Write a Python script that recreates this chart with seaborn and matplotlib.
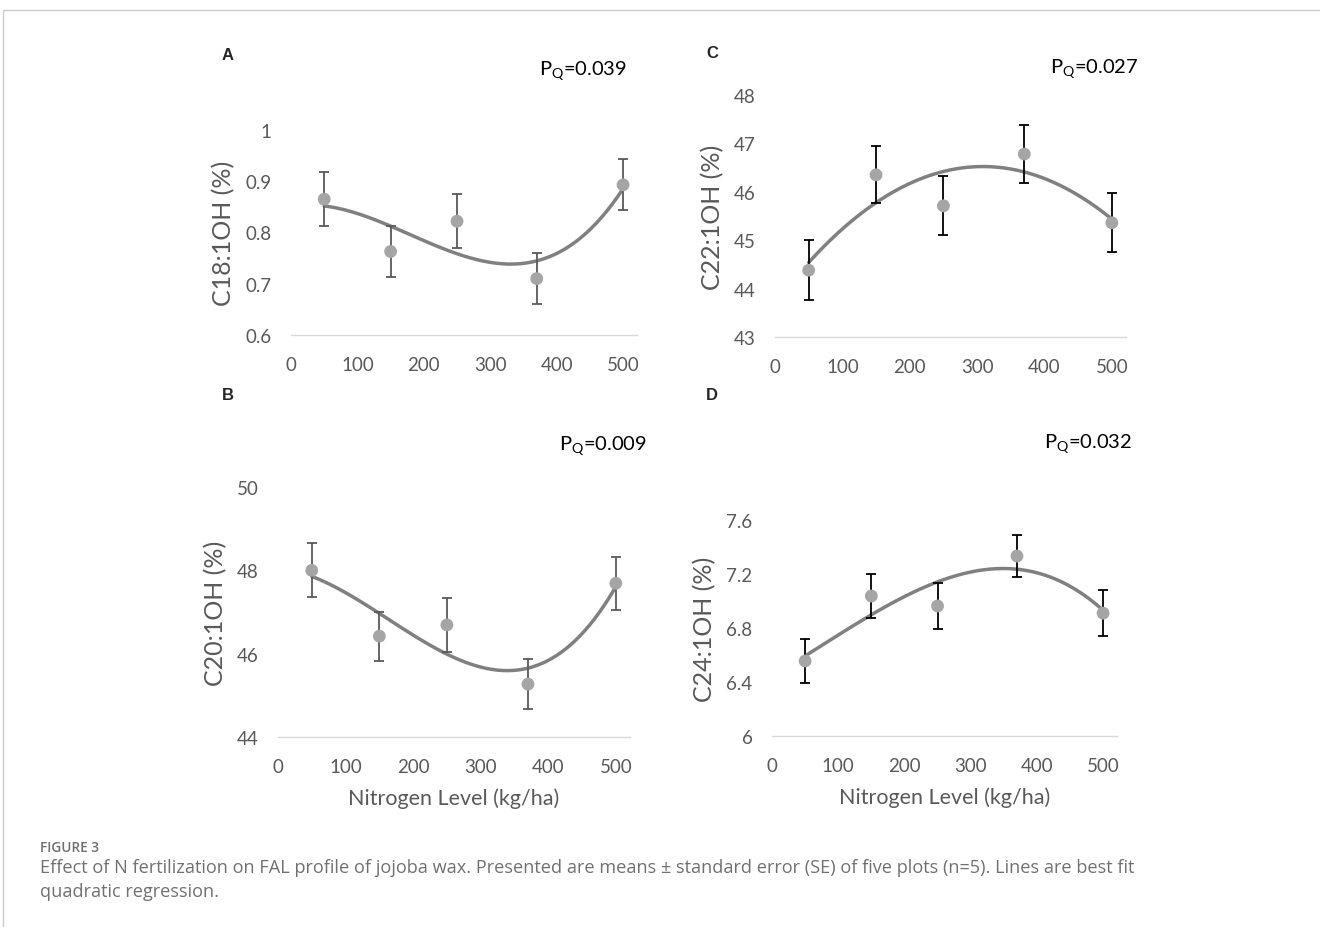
import matplotlib
matplotlib.use("Agg")
import matplotlib.pyplot as plt
from matplotlib.lines import Line2D
import seaborn as sns
import pandas as pd

# nitrogen levels (kg/ha)
n_level = [50, 150, 250, 370, 500]

# panel A: C18:1OH
c18_mean = [0.865, 0.763, 0.822, 0.710, 0.893]
c18_se = [0.053, 0.049, 0.053, 0.050, 0.050]
# panel B: C20:1OH
c20_mean = [48.0, 46.42, 46.69, 45.27, 47.69]
c20_se = [0.65, 0.59, 0.64, 0.61, 0.64]
# panel C: C22:1OH
c22_mean = [44.38, 46.35, 45.71, 46.78, 45.36]
c22_se = [0.62, 0.59, 0.61, 0.60, 0.61]
# panel D: C24:1OH
c24_mean = [6.556, 7.037, 6.963, 7.333, 6.910]
c24_se = [0.160, 0.163, 0.167, 0.156, 0.170]

x_ticks = [0, 100, 200, 300, 400, 500]

sns.set_style("white")
plt.rcParams["font.family"] = ["Lato", "DejaVu Sans"]
plt.rcParams["mathtext.fontset"] = "custom"
plt.rcParams["mathtext.rm"] = "Lato"

TXT = "#595959"
LINE = "#808080"
DOT = "#a5a5a5"


def draw_panel(ax, mean, se, order, ylim, yticks, yticklabels, ylabel, errcolor, xlabel=None):
    df = pd.DataFrame({"N": n_level, "val": mean})
    sns.regplot(data=df, x="N", y="val", order=order, ci=None, scatter=False, truncate=True,
                line_kws={"color": LINE, "lw": 2.5}, ax=ax)
    ax.errorbar(n_level, mean, yerr=se, fmt="none", ecolor=errcolor, elinewidth=1.3,
                capsize=3.6, capthick=1.3, zorder=3)
    sns.scatterplot(data=df, x="N", y="val", color=DOT, s=85, edgecolor="none", zorder=4, ax=ax)
    ax.set_xlim(0, 521)
    ax.set_ylim(*ylim)
    ax.set_xticks(x_ticks)
    ax.set_yticks(yticks)
    ax.set_yticklabels(yticklabels)
    for s in ["top", "right", "left"]:
        ax.spines[s].set_visible(False)
    ax.spines["bottom"].set_color("#d9d9d9")
    ax.spines["bottom"].set_linewidth(1.0)
    ax.tick_params(axis="x", length=0, pad=15, labelsize=13.5, labelcolor=TXT)
    ax.tick_params(axis="y", length=0, pad=14, labelsize=13.5, labelcolor=TXT)
    ax.set_ylabel(ylabel, fontsize=18, color=TXT, labelpad=7)
    if xlabel:
        ax.set_xlabel(xlabel, fontsize=15.5, color=TXT, labelpad=9)
    else:
        ax.set_xlabel("")


fig = plt.figure(figsize=(13.2, 9.28), dpi=100)

axA = fig.add_axes([291 / 1320, 1 - 336 / 928, 346 / 1320, 205 / 928])
axC = fig.add_axes([775 / 1320, 1 - 338 / 928, 351 / 1320, 242 / 928])
axB = fig.add_axes([278 / 1320, 1 - 738 / 928, 352 / 1320, 250 / 928])
axD = fig.add_axes([772 / 1320, 1 - 737 / 928, 345 / 1320, 216 / 928])

draw_panel(axA, c18_mean, c18_se, 3, (0.6, 1.0), [0.6, 0.7, 0.8, 0.9, 1.0],
           ["0.6", "0.7", "0.8", "0.9", "1"], "C18:1OH (%)", "#595959")
draw_panel(axC, c22_mean, c22_se, 2, (43, 48), [43, 44, 45, 46, 47, 48],
           ["43", "44", "45", "46", "47", "48"], "C22:1OH (%)", "black")
draw_panel(axB, c20_mean, c20_se, 3, (44, 50), [44, 46, 48, 50],
           ["44", "46", "48", "50"], "C20:1OH (%)", "#595959",
           xlabel="Nitrogen Level (kg/ha)")
draw_panel(axD, c24_mean, c24_se, 3, (6, 7.6), [6, 6.4, 6.8, 7.2, 7.6],
           ["6", "6.4", "6.8", "7.2", "7.6"], "C24:1OH (%)", "black",
           xlabel="Nitrogen Level (kg/ha)")

# panel letters and P values
for lx, ly, letter in [(228, 55, "A"), (712, 53, "C"), (228, 396, "B"), (712, 396, "D")]:
    fig.text(lx / 1320, 1 - ly / 928, letter, ha="center", va="center", fontsize=12,
             fontweight="bold", family=["Liberation Sans", "DejaVu Sans"])
for px, py, pv in [(627, 71, "0.039"), (1138, 69, "0.027"), (647, 446, "0.009"), (1132, 444, "0.032")]:
    fig.text(px / 1320, 1 - py / 928, r"P$_\mathregular{Q}$=" + pv, ha="right", va="center",
             fontsize=14.5, color="black")

# caption
fig.text(40 / 1320, 1 - 848 / 928, "FIGURE 3", fontsize=9.8, color="#707070", fontweight="semibold",
         family=["Open Sans", "DejaVu Sans"], va="center")
fig.text(40 / 1320, 1 - 859 / 928,
         "Effect of N fertilization on FAL profile of jojoba wax. Presented are means \u00b1 standard error (SE) of five plots (n=5). Lines are best fit\nquadratic regression.",
         fontsize=13.1, color="#707070", family=["Open Sans", "DejaVu Sans"], va="top", linespacing=1.45)

# frame lines
fig.add_artist(Line2D([3 / 1320, 1], [1 - 11 / 928, 1 - 11 / 928], color="#cccccc", lw=1))
fig.add_artist(Line2D([3 / 1320, 3 / 1320], [0, 1 - 11 / 928], color="#cccccc", lw=1))

fig.savefig("out.png", dpi=100)
